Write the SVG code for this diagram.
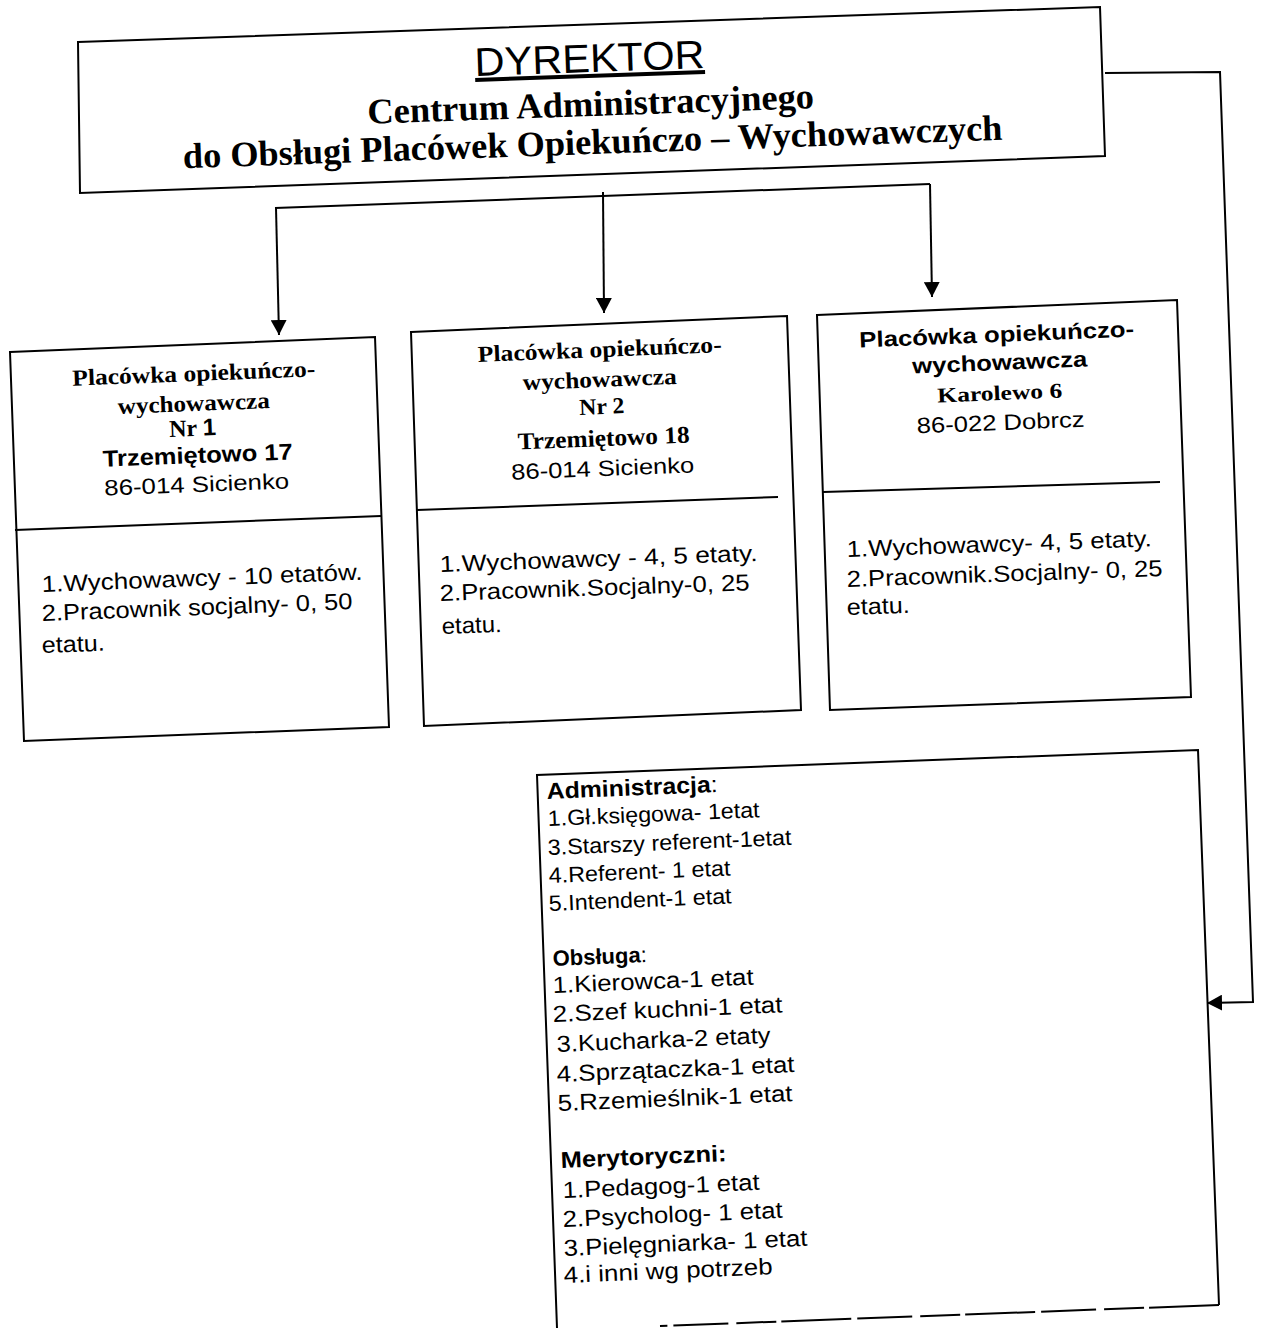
<svg xmlns="http://www.w3.org/2000/svg" width="1263" height="1328" viewBox="0 0 1263 1328">
<defs>
<marker id="ah" viewBox="0 0 15 16" refX="15" refY="8" markerWidth="15" markerHeight="16" markerUnits="userSpaceOnUse" orient="auto"><path d="M0,0 L15,8 L0,16 z" fill="#000"/></marker>
</defs>
<style>
.box{fill:#fff;stroke:#000;stroke-width:2;stroke-linejoin:miter}
.ln{fill:none;stroke:#000;stroke-width:2}
.sb{font-family:"Liberation Serif","Times New Roman",serif;font-weight:bold;fill:#000}
.ab{font-family:"Liberation Sans",Arial,sans-serif;font-weight:bold;fill:#000}
.a{font-family:"Liberation Sans",Arial,sans-serif;font-weight:normal;fill:#000}
.m{text-anchor:middle}
</style>
<rect width="1263" height="1328" fill="#fff"/>

<g id="connectors">
<path class="ln" d="M275,208 L930,184"/>
<path class="ln" d="M276,208 L279,335" marker-end="url(#ah)"/>
<path class="ln" d="M603,192 L604,313" marker-end="url(#ah)"/>
<path class="ln" d="M930,184 L932,297" marker-end="url(#ah)"/>
<path class="ln" d="M1105,73 L1220,72 L1253,1002 L1207,1003" marker-end="url(#ah)"/>
</g>

<g id="dyrektor">
<path class="box" d="M78,42 L1100,7 L1105,156 L80,193 Z"/>
<text class="a m" x="590" y="72" font-size="40" textLength="230" lengthAdjust="spacingAndGlyphs" text-decoration="underline" transform="rotate(-2 590 72)">DYREKTOR</text>
<text class="sb m" x="591" y="116" font-size="36" textLength="447" lengthAdjust="spacingAndGlyphs" transform="rotate(-2 591 116)">Centrum Administracyjnego</text>
<text class="sb m" x="593" y="154" font-size="36" textLength="820" lengthAdjust="spacingAndGlyphs" transform="rotate(-2 593 154)">do Obsługi Placówek Opiekuńczo – Wychowawczych</text>
</g>

<g id="placowka1">
<path class="box" d="M10,352 L375,337 L389,727 L24,741 Z"/>
<path class="ln" d="M15,530 L381,516"/>
<text class="sb m" x="194" y="381" font-size="23" textLength="243" lengthAdjust="spacingAndGlyphs" transform="rotate(-2.2 194 381)">Placówka opiekuńczo-</text>
<text class="sb m" x="194" y="411" font-size="23" textLength="152" lengthAdjust="spacingAndGlyphs" transform="rotate(-2.2 194 411)">wychowawcza</text>
<text class="sb m" x="193" y="436" font-size="24" transform="rotate(-2.2 193 436)">Nr <tspan class="ab">1</tspan></text>
<text class="ab m" x="198" y="463" font-size="23" textLength="190" lengthAdjust="spacingAndGlyphs" transform="rotate(-2.2 198 463)">Trzemiętowo 17</text>
<text class="a m" x="197" y="492" font-size="22" textLength="185" lengthAdjust="spacingAndGlyphs" transform="rotate(-2.2 197 492)">86-014 Sicienko</text>
<text class="a" x="42" y="592" font-size="23" textLength="321" lengthAdjust="spacingAndGlyphs" transform="rotate(-2.2 42 592)">1.Wychowawcy - 10 etatów.</text>
<text class="a" x="42" y="621" font-size="23" textLength="311" lengthAdjust="spacingAndGlyphs" transform="rotate(-2.2 42 621)">2.Pracownik socjalny- 0, 50</text>
<text class="a" x="42" y="653" font-size="23" textLength="63" lengthAdjust="spacingAndGlyphs" transform="rotate(-2.2 42 653)">etatu.</text>
</g>

<g id="placowka2">
<path class="box" d="M411,332 L787,316 L801,710 L424,726 Z"/>
<path class="ln" d="M417,510 L778,497"/>
<text class="sb m" x="600" y="357" font-size="23" textLength="244" lengthAdjust="spacingAndGlyphs" transform="rotate(-2.3 600 357)">Placówka opiekuńczo-</text>
<text class="sb m" x="600" y="387" font-size="23" textLength="154" lengthAdjust="spacingAndGlyphs" transform="rotate(-2.3 600 387)">wychowawcza</text>
<text class="sb m" x="602" y="414" font-size="23" textLength="45" lengthAdjust="spacingAndGlyphs" transform="rotate(-2.3 602 414)">Nr 2</text>
<text class="sb m" x="604" y="446" font-size="24" textLength="172" lengthAdjust="spacingAndGlyphs" transform="rotate(-2.3 604 446)">Trzemiętowo 18</text>
<text class="a m" x="603" y="476" font-size="22" textLength="183" lengthAdjust="spacingAndGlyphs" transform="rotate(-2.3 603 476)">86-014 Sicienko</text>
<text class="a" x="440" y="572" font-size="23" textLength="318" lengthAdjust="spacingAndGlyphs" transform="rotate(-2 440 572)">1.Wychowawcy - 4, 5 etaty.</text>
<text class="a" x="440" y="601" font-size="23" textLength="310" lengthAdjust="spacingAndGlyphs" transform="rotate(-2 440 601)">2.Pracownik.Socjalny-0, 25</text>
<text class="a" x="442" y="634" font-size="23" textLength="60" lengthAdjust="spacingAndGlyphs" transform="rotate(-2 442 634)">etatu.</text>
</g>

<g id="placowka3">
<path class="box" d="M817,315 L1177,300 L1191,697 L830,710 Z"/>
<path class="ln" d="M823,492 L1160,482"/>
<text class="ab m" x="997" y="342" font-size="22" textLength="275" lengthAdjust="spacingAndGlyphs" transform="rotate(-2.3 997 342)">Placówka opiekuńczo-</text>
<text class="ab m" x="1000" y="370" font-size="22" textLength="175" lengthAdjust="spacingAndGlyphs" transform="rotate(-2.3 1000 370)">wychowawcza</text>
<text class="sb m" x="1000" y="400" font-size="21" textLength="125" lengthAdjust="spacingAndGlyphs" transform="rotate(-2.3 1000 400)">Karolewo 6</text>
<text class="a m" x="1001" y="430" font-size="22" textLength="168" lengthAdjust="spacingAndGlyphs" transform="rotate(-2.3 1001 430)">86-022 Dobrcz</text>
<text class="a" x="847" y="557" font-size="23" textLength="305" lengthAdjust="spacingAndGlyphs" transform="rotate(-2 847 557)">1.Wychowawcy- 4, 5 etaty.</text>
<text class="a" x="847" y="587" font-size="23" textLength="316" lengthAdjust="spacingAndGlyphs" transform="rotate(-2 847 587)">2.Pracownik.Socjalny- 0, 25</text>
<text class="a" x="847" y="615" font-size="23" textLength="63" lengthAdjust="spacingAndGlyphs" transform="rotate(-2 847 615)">etatu.</text>
</g>

<g id="administracja">
<path class="ln" d="M557,1328 L537,775 L1198,750 L1219,1305"/>
<path class="ln" d="M1219,1305 L660,1326" stroke-dasharray="70,5,40,8,55,6"/>
<g transform="translate(547 799) rotate(-2.4) scale(1.08 1)"><text class="ab" x="0" y="0" font-size="23">Administracja<tspan class="a">:</tspan></text></g>
<text class="a" x="548" y="826" font-size="22" textLength="212" lengthAdjust="spacingAndGlyphs" transform="rotate(-2.4 548 826)">1.Gł.księgowa- 1etat</text>
<text class="a" x="548" y="855" font-size="22" textLength="244" lengthAdjust="spacingAndGlyphs" transform="rotate(-2.4 548 855)">3.Starszy referent-1etat</text>
<text class="a" x="549" y="883" font-size="22" textLength="182" lengthAdjust="spacingAndGlyphs" transform="rotate(-2.4 549 883)">4.Referent- 1 etat</text>
<text class="a" x="549" y="911" font-size="22" textLength="183" lengthAdjust="spacingAndGlyphs" transform="rotate(-2.4 549 911)">5.Intendent-1 etat</text>
<g transform="translate(553 966) rotate(-2.4)"><text class="ab" x="0" y="0" font-size="22">Obsługa<tspan class="a">:</tspan></text></g>
<text class="a" x="553" y="993" font-size="23" textLength="201" lengthAdjust="spacingAndGlyphs" transform="rotate(-2.4 553 993)">1.Kierowca-1 etat</text>
<text class="a" x="553" y="1022" font-size="23" textLength="230" lengthAdjust="spacingAndGlyphs" transform="rotate(-2.4 553 1022)">2.Szef kuchni-1 etat</text>
<text class="a" x="557" y="1052" font-size="23" textLength="214" lengthAdjust="spacingAndGlyphs" transform="rotate(-2.4 557 1052)">3.Kucharka-2 etaty</text>
<text class="a" x="557" y="1082" font-size="23" textLength="238" lengthAdjust="spacingAndGlyphs" transform="rotate(-2.4 557 1082)">4.Sprzątaczka-1 etat</text>
<text class="a" x="558" y="1111" font-size="23" textLength="235" lengthAdjust="spacingAndGlyphs" transform="rotate(-2.4 558 1111)">5.Rzemieślnik-1 etat</text>
<text class="ab" x="561" y="1168" font-size="23" textLength="166" lengthAdjust="spacingAndGlyphs" transform="rotate(-2.4 561 1168)">Merytoryczni:</text>
<text class="a" x="563" y="1198" font-size="23" textLength="197" lengthAdjust="spacingAndGlyphs" transform="rotate(-2.4 563 1198)">1.Pedagog-1 etat</text>
<text class="a" x="563" y="1227" font-size="23" textLength="220" lengthAdjust="spacingAndGlyphs" transform="rotate(-2.4 563 1227)">2.Psycholog- 1 etat</text>
<text class="a" x="564" y="1256" font-size="23" textLength="244" lengthAdjust="spacingAndGlyphs" transform="rotate(-2.4 564 1256)">3.Pielęgniarka- 1 etat</text>
<text class="a" x="564" y="1283" font-size="23" textLength="209" lengthAdjust="spacingAndGlyphs" transform="rotate(-2.4 564 1283)">4.i inni wg potrzeb</text>
</g>
</svg>
